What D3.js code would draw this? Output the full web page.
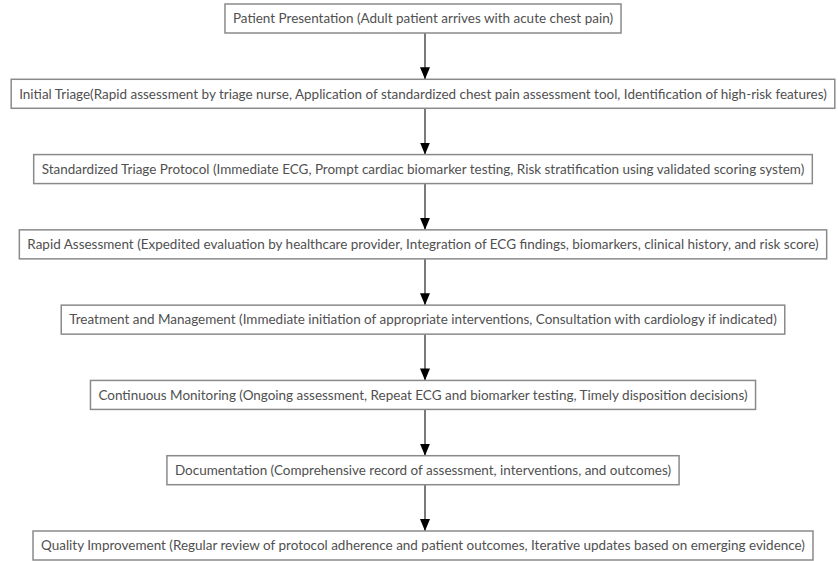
<!DOCTYPE html>
<meta charset='utf-8'>
<style>
	body { margin: 0; background: #fff; }
	rect.box { fill: #fff; stroke: #8a8a8a; stroke-width: 1.5px; }
	text.lbl { fill: #505050; font-family: Lato, 'Noto Sans', sans-serif; text-anchor: middle; }
	line.link { stroke: #333; stroke-width: 1.3px; }
</style>
<body>
<script src='https://cdn.jsdelivr.net/npm/d3@7/dist/d3.min.js'></script>
<script>
var steps = [
	'Patient Presentation (Adult patient arrives with acute chest pain)',
	'Initial Triage(Rapid assessment by triage nurse, Application of standardized chest pain assessment tool, Identification of high-risk features)',
	'Standardized Triage Protocol (Immediate ECG, Prompt cardiac biomarker testing, Risk stratification using validated scoring system)',
	'Rapid Assessment (Expedited evaluation by healthcare provider, Integration of ECG findings, biomarkers, clinical history, and risk score)',
	'Treatment and Management (Immediate initiation of appropriate interventions, Consultation with cardiology if indicated)',
	'Continuous Monitoring (Ongoing assessment, Repeat ECG and biomarker testing, Timely disposition decisions)',
	'Documentation (Comprehensive record of assessment, interventions, and outcomes)',
	'Quality Improvement (Regular review of protocol adherence and patient outcomes, Iterative updates based on emerging evidence)'
];
var links = d3.pairs(steps);

var W = 838, H = 561, boxH = 29, padX = 8, cx = 423, arrowX = 425;

var y = d3.scalePoint().domain(steps).range([4, H - 1 - boxH]);

var svg = d3.select('body').append('svg').attr('width', W).attr('height', H);

svg.append('defs').append('marker')
	.attr('id', 'arrow').attr('viewBox', '0 0 12 10')
	.attr('refX', 12).attr('refY', 5)
	.attr('markerWidth', 12).attr('markerHeight', 10)
	.attr('markerUnits', 'userSpaceOnUse').attr('orient', 'auto')
	.append('path').attr('d', 'M0,0L12,5L0,10Z').attr('fill', '#000');

// pick a font size so the widest label matches the widest box
var probe = svg.append('text').attr('class', 'lbl').attr('font-size', 12).text(steps[1]);
var fs = 12 * 808 / probe.node().getComputedTextLength();
probe.remove();

svg.selectAll('line.link').data(links).enter().append('line').attr('class', 'link')
	.attr('x1', arrowX).attr('x2', arrowX)
	.attr('y1', function (d) { return y(d[0]) + boxH; })
	.attr('y2', function (d) { return y(d[1]); })
	.attr('marker-end', 'url(#arrow)');

var g = svg.selectAll('g.step').data(steps).enter().append('g').attr('class', 'step')
	.attr('transform', function (d) { return 'translate(0,' + y(d) + ')'; });

var rects = g.append('rect').attr('class', 'box').attr('height', boxH);

g.append('text').attr('class', 'lbl')
	.attr('font-size', fs)
	.attr('x', cx).attr('y', boxH / 2 + fs * 0.36)
	.text(function (d) { return d; });

rects.each(function () {
	var t = d3.select(this.parentNode).select('text').node().getComputedTextLength();
	d3.select(this).attr('x', cx - t / 2 - padX).attr('width', t + 2 * padX);
});
</script>
